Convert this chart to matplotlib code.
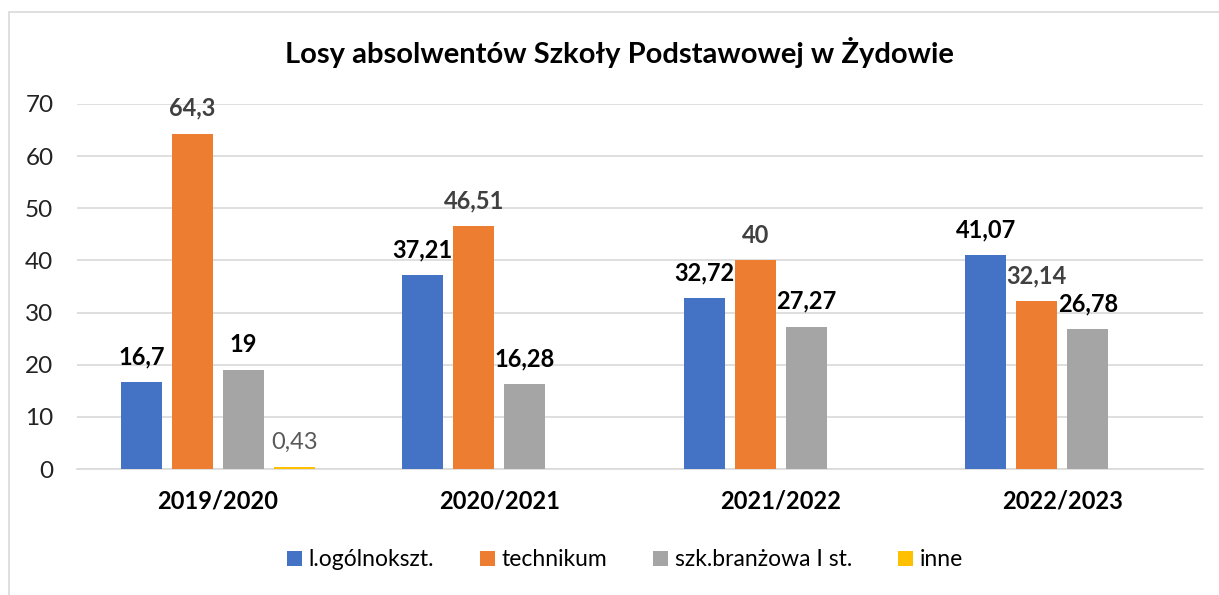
import numpy as np
import matplotlib.pyplot as plt
from matplotlib.patches import Rectangle

plt.rcParams['font.family'] = ['Lato', 'DejaVu Sans']

# Dane
lata = ['2019/2020', '2020/2021', '2021/2022', '2022/2023']
serie = ['l.ogólnokszt.', 'technikum', 'szk.branżowa I st.', 'inne']
l_ogolnoksztalcace = [16.7, 37.21, 32.72, 41.07]
technikum = [64.3, 46.51, 40, 32.14]
branzowa = [19, 16.28, 27.27, 26.78]
inne = [0.43, None, None, None]

kolory = ['#4472C4', '#ED7D31', '#A5A5A5', '#FFC000']
kolory_etykiet = ['black', '#404040', 'black', '#595959']
grubosc_etykiet = ['bold', 'bold', 'bold', 'normal']

W, H = 1219, 595
fig = plt.figure(figsize=(W / 100, H / 100), dpi=100)
ax = fig.add_axes([77 / W, 1 - 469 / H, (1203 - 77) / W, (469 - 104) / H])

# Ramka wykresu
fig.add_artist(Rectangle((9 / W, -0.1), 1.2, 1 - 12 / H + 0.1, transform=fig.transFigure,
                         fill=False, edgecolor='#D9D9D9', linewidth=1.2))

x = np.arange(len(lata))
krok = 0.181
szer = 0.146
dane = [l_ogolnoksztalcace, technikum, branzowa, inne]

for i, (nazwa, wart) in enumerate(zip(serie, dane)):
    pos = x + (i - 1.5) * krok
    v = np.array([np.nan if w is None else w for w in wart], dtype=float)
    ax.bar(pos, np.nan_to_num(v), width=szer, color=kolory[i], label=nazwa, zorder=3)
    for p, w in zip(pos, wart):
        if w is None:
            continue
        ax.annotate(f'{w:g}'.replace('.', ','), (p, w), xytext=(0, 10), textcoords='offset points',
                    ha='center', va='bottom', fontsize=17, color=kolory_etykiet[i],
                    fontweight=grubosc_etykiet[i], zorder=4)

ax.set_xlim(-0.5, 3.5)
ax.set_ylim(0, 70)
ax.set_yticks(range(0, 71, 10))
ax.set_xticks(x)
ax.set_xticklabels(lata, fontsize=17, fontweight='bold')
ax.tick_params(axis='y', labelsize=17.5, length=0, pad=17, labelcolor='#222222')
ax.tick_params(axis='x', length=0, pad=15)
ax.grid(axis='y', color='#D9D9D9', linewidth=1.2, zorder=0)
for s in ['top', 'right', 'left']:
    ax.spines[s].set_visible(False)
ax.spines['bottom'].set_color('#D9D9D9')
ax.spines['bottom'].set_linewidth(1.2)

fig.text(619 / W, 1 - 53 / H, 'Losy absolwentów Szkoły Podstawowej w Żydowie',
         ha='center', va='center', fontsize=21, fontweight='bold')

fig.legend(loc='center', bbox_to_anchor=(625 / W, 1 - 560 / H), ncol=4, frameon=False,
           fontsize=16.5, handlelength=0.65, handleheight=0.65, handletextpad=0.3, columnspacing=2.0)

fig.savefig('out.png', dpi=100)
